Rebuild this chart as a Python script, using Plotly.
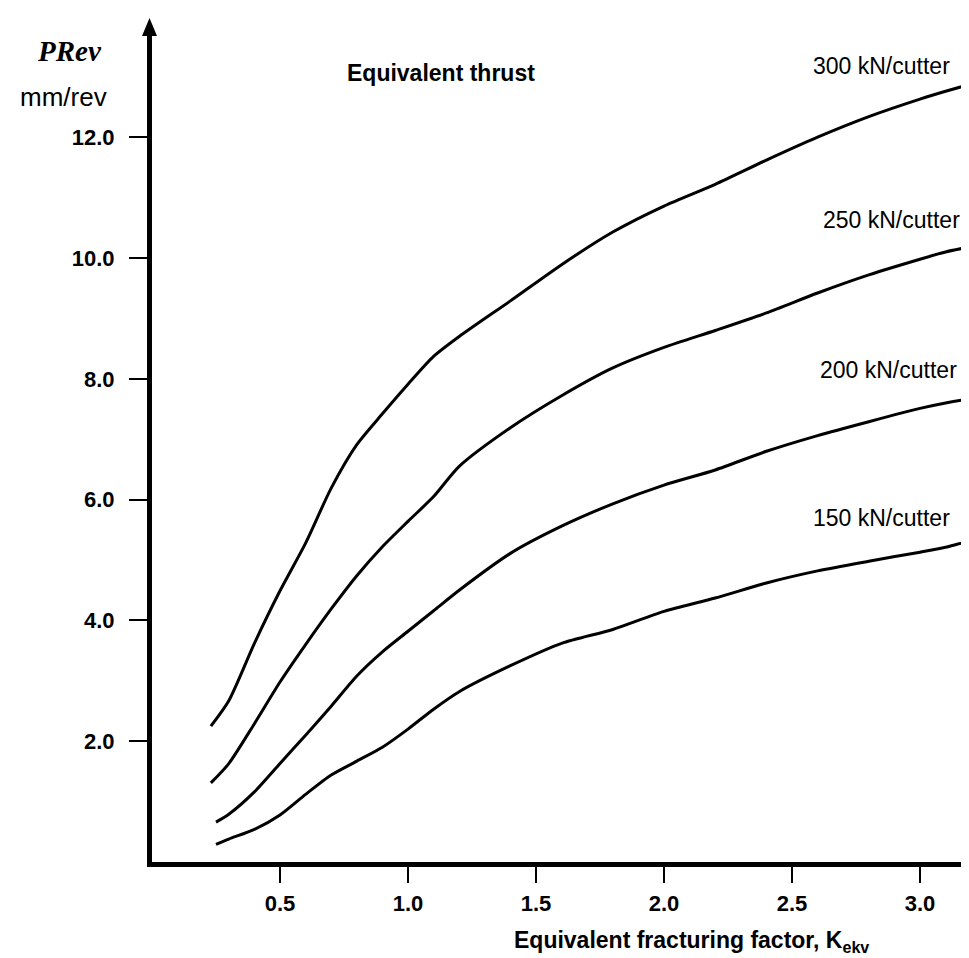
import plotly.graph_objects as go

# ---------------- data ----------------
K_A = [0.23, 0.3, 0.4, 0.5, 0.6, 0.7, 0.8, 0.9, 1.0, 1.1, 1.2, 1.4, 1.6, 1.8,
       2.0, 2.2, 2.4, 2.6, 2.8, 3.0, 3.1, 3.2, 3.22]
K_B = [0.25, 0.3, 0.4, 0.5, 0.6, 0.7, 0.8, 0.9, 1.0, 1.1, 1.2, 1.4, 1.6, 1.8,
       2.0, 2.2, 2.4, 2.6, 2.8, 3.0, 3.1, 3.2, 3.22]

prev_300 = [2.25, 2.67, 3.62, 4.49, 5.28, 6.19, 6.91, 7.42, 7.91, 8.37, 8.70, 9.29,
            9.89, 10.43, 10.86, 11.22, 11.62, 12.00, 12.34, 12.63, 12.76, 12.88, 12.90]
prev_250 = [1.31, 1.63, 2.29, 2.98, 3.60, 4.19, 4.74, 5.22, 5.64, 6.05, 6.55, 7.19,
            7.72, 8.18, 8.52, 8.80, 9.09, 9.42, 9.72, 9.98, 10.10, 10.19, 10.21]
prev_200 = [0.66, 0.79, 1.16, 1.63, 2.10, 2.58, 3.08, 3.48, 3.82, 4.16, 4.50, 5.11,
            5.56, 5.93, 6.24, 6.49, 6.80, 7.06, 7.29, 7.51, 7.60, 7.67, 7.68]
prev_150 = [0.29, 0.38, 0.54, 0.78, 1.12, 1.44, 1.67, 1.90, 2.20, 2.53, 2.82, 3.25,
            3.62, 3.85, 4.15, 4.37, 4.62, 4.82, 4.98, 5.13, 5.21, 5.31, 5.27]

series_labels = ["300 kN/cutter", "250 kN/cutter", "200 kN/cutter", "150 kN/cutter"]
label_pos = [(2.85, 13.18), (2.89, 10.63), (2.875, 8.15), (2.85, 5.69)]

x_ticks = [0.5, 1.0, 1.5, 2.0, 2.5, 3.0]
y_ticks = [2.0, 4.0, 6.0, 8.0, 10.0, 12.0]

# ---------------- layout geometry ----------------
W, H = 969, 958
ML, MR, MT, MB = 144, 0, 28, 104
PW, PH = W - ML - MR, H - MT - MB
X_MAX = PW / 256.0
Y_MAX = PH / 60.4

def px(x):
    return (x - ML) / PW

def py(y):
    return (H - MB - y) / PH

SANS = "Liberation Sans, Arial, sans-serif"
SERIF = "Liberation Serif, Times New Roman, serif"

fig = go.Figure()
for xs, ys, name in [(K_A, prev_300, series_labels[0]), (K_A, prev_250, series_labels[1]),
                     (K_B, prev_200, series_labels[2]), (K_B, prev_150, series_labels[3])]:
    fig.add_trace(go.Scatter(x=xs, y=ys, mode="lines", name=name,
                             line=dict(color="black", width=3, shape="spline", smoothing=0.7),
                             hoverinfo="skip"))

annotations = []
for text, (lx, ly) in zip(series_labels, label_pos):
    annotations.append(dict(x=lx, y=ly, xref="x", yref="y", text=text, showarrow=False,
                            xanchor="center", yanchor="middle",
                            font=dict(family=SANS, size=23, color="black")))

annotations += [
    dict(x=px(61), y=py(43), xref="paper", yref="paper", text="<b><i>PRev</i></b>",
         showarrow=False, xanchor="center", yanchor="middle",
         font=dict(family=SERIF, size=29, color="black")),
    dict(x=px(55), y=py(89), xref="paper", yref="paper", text="mm/rev",
         showarrow=False, xanchor="center", yanchor="middle",
         font=dict(family=SANS, size=26, color="black")),
    dict(x=px(337), y=py(65), xref="paper", yref="paper", text="<b>Equivalent thrust</b>",
         showarrow=False, xanchor="left", yanchor="middle",
         font=dict(family=SANS, size=23, color="black")),
    dict(x=px(505), y=py(949), xref="paper", yref="paper",
         text="<b>Equivalent fracturing factor, K<sub>ekv</sub></b>",
         showarrow=False, xanchor="left", yanchor="bottom", borderpad=0,
         font=dict(family=SANS, size=23, color="black")),
]

shapes = [
    # arrowhead on top of the vertical axis
    dict(type="path", xref="paper", yref="paper", xsizemode="pixel", ysizemode="pixel",
         xanchor=0, yanchor=1, path="M -10,0 L 5,0 L -2.5,18 Z",
         fillcolor="black", line=dict(width=0)),
    # arrowhead at the right end of the horizontal axis
    dict(type="path", xref="paper", yref="paper", xsizemode="pixel", ysizemode="pixel",
         xanchor=1, yanchor=0, path="M -6,5 L -6,-10 L 12,-2.5 Z",
         fillcolor="black", line=dict(width=0)),
]

fig.update_layout(
    width=W, height=H,
    margin=dict(l=ML, r=MR, t=MT, b=MB),
    plot_bgcolor="white", paper_bgcolor="white",
    showlegend=False,
    annotations=annotations,
    shapes=shapes,
)
fig.update_xaxes(range=[0, X_MAX], showline=True, linewidth=5, linecolor="black",
                 ticks="outside", ticklen=16, tickwidth=2, tickcolor="black",
                 tickvals=x_ticks, tickformat=".1f",
                 tickfont=dict(family=SANS, size=22, color="black", weight="bold"),
                 ticklabelstandoff=2,
                 showgrid=False, zeroline=False)
fig.update_yaxes(range=[0, Y_MAX], showline=True, linewidth=5, linecolor="black",
                 ticks="outside", ticklen=18, tickwidth=2, tickcolor="black",
                 tickvals=y_ticks, tickformat=".1f",
                 tickfont=dict(family=SANS, size=22, color="black", weight="bold"),
                 ticklabelstandoff=10,
                 showgrid=False, zeroline=False)

fig.write_html("out.html")
